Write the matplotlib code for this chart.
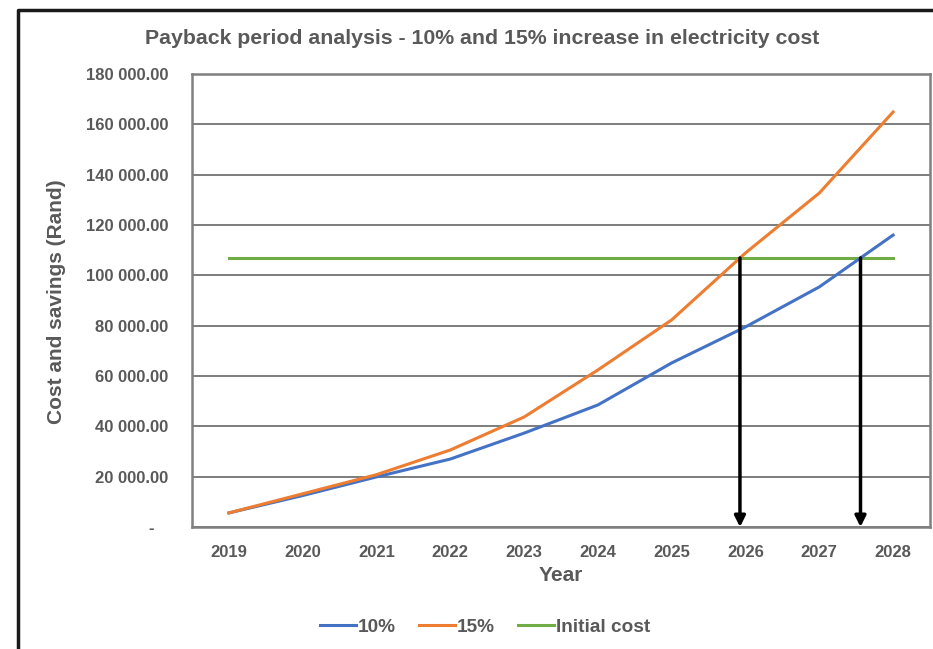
import matplotlib
matplotlib.use("Agg")
import matplotlib.pyplot as plt
from matplotlib.lines import Line2D
from matplotlib.ticker import FuncFormatter
import numpy as np

# Payback data (Rand)
years = ["2019", "2020", "2021", "2022", "2023", "2024", "2025", "2026", "2027", "2028"]
savings_10 = [5600, 12500, 19900, 27000, 37300, 48500, 65200, 79500, 95400, 116000]
savings_15 = [5600, 13200, 20800, 30600, 43700, 62400, 82300, 108900, 132700, 164900]
initial_cost = 106900

series_labels = ["10%", "15%", "Initial cost"]
colors = ["#4472C4", "#ED7D31", "#70AD47"]
text_color = "#595959"

plt.rcParams["font.family"] = ["Liberation Sans", "DejaVu Sans"]
plt.rcParams["font.weight"] = "bold"

fig = plt.figure(figsize=(9.33, 6.49), dpi=100)
ax = fig.add_axes([192 / 933, 1 - 527 / 649, (930 - 192) / 933, (527 - 74) / 649])

x = np.arange(len(years))
ax.plot(x, savings_10, color=colors[0], lw=2.2, label=series_labels[0], zorder=3)
ax.plot(x, savings_15, color=colors[1], lw=2.2, label=series_labels[1], zorder=3)
ax.plot(x, [initial_cost] * len(x), color=colors[2], lw=2.2, label=series_labels[2], zorder=2)


def crossing(values, level):
    """Fractional index where a rising series first reaches the given level."""
    for i in range(1, len(values)):
        if values[i] >= level:
            return (i - 1) + (level - values[i - 1]) / (values[i] - values[i - 1])
    return None


# Payback arrows from the initial-cost line down to the axis
for vals in (savings_15, savings_10):
    xc = crossing(vals, initial_cost)
    ax.annotate("", xy=(xc, 0), xytext=(xc, initial_cost),
                arrowprops=dict(arrowstyle="-|>", color="black", lw=2.5,
                                mutation_scale=16, shrinkA=0, shrinkB=0),
                zorder=4)

ax.set_xlim(-0.5, len(years) - 0.5)
ax.set_ylim(0, 180000)
ax.set_xticks(x)
ax.set_xticklabels(years)
ax.set_yticks(np.arange(0, 180001, 20000))


def rand_fmt(v, pos):
    # Accounting-style: zero shown as a dash
    if v == 0:
        return "-   "
    return f"{v:,.2f}".replace(",", " ")


ax.yaxis.set_major_formatter(FuncFormatter(rand_fmt))
ax.tick_params(axis="both", length=0, labelsize=12, colors=text_color)
ax.tick_params(axis="x", pad=13)
ax.tick_params(axis="y", pad=17)

ax.grid(axis="y", color="#5a5a5a", lw=1.1)
ax.set_axisbelow(True)
for s in ax.spines.values():
    s.set_color("#808080")
    s.set_linewidth(1.8)

ax.set_xlabel("Year", fontsize=15, color=text_color, fontweight="bold", labelpad=4)
fig.text(57 / 933, 1 - 302 / 649, "Cost and savings (Rand)", rotation=90,
         ha="center", va="center", fontsize=15, color=text_color, fontweight="bold")

fig.text(482 / 933, 1 - 38 / 649,
         "Payback period analysis - 10% and 15% increase in electricity cost",
         ha="center", va="center", fontsize=15.3, color=text_color, fontweight="bold")

fig.legend(loc="center", bbox_to_anchor=(485 / 933, 1 - 627 / 649), ncol=3,
           frameon=False, fontsize=13.7, labelcolor=text_color, handlelength=1.9,
           handletextpad=0.1, columnspacing=1.2)

# Outer chart-area border (left and top edges)
bx = 17.5 / 933
by = 1 - 10 / 649
fig.add_artist(Line2D([bx, bx, 1.0], [0.0, by, by], transform=fig.transFigure,
                      color="#1a1a1a", lw=2.5))

fig.savefig("out.png", dpi=100, facecolor="white")
